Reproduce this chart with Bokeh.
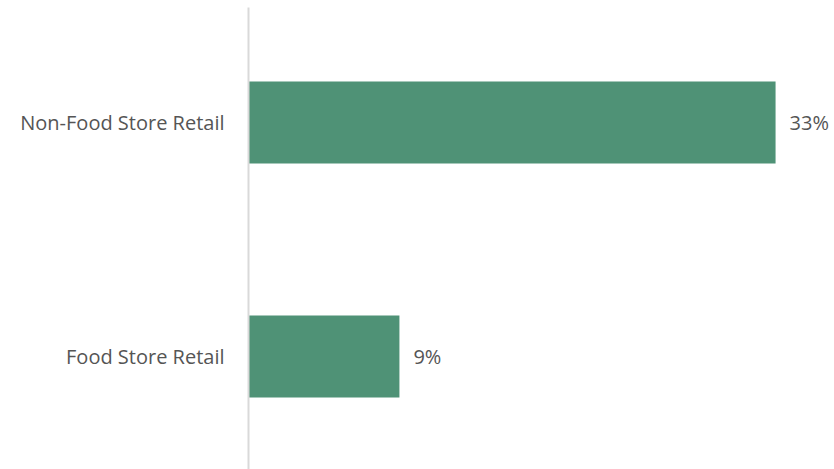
from bokeh.plotting import figure
from bokeh.models import ColumnDataSource, Range1d, FixedTicker
from bokeh.core.properties import value
from bokeh.embed import file_html
from bokeh.resources import INLINE

categories = ["Food Store Retail", "Non-Food Store Retail"]
shares = [9.45, 33.0]
share_labels = ["9%", "33%"]

positions = list(range(len(categories)))
src = ColumnDataSource(dict(y=positions, v=shares, lab=share_labels))

p = figure(width=834, height=469, output_backend="svg", toolbar_location=None,
           x_range=Range1d(0, 36.69), y_range=Range1d(-0.483, 1.4915),
           min_border_left=248, min_border_right=0, min_border_top=7, min_border_bottom=0)
p.xaxis.visible = False
p.xgrid.visible = False
p.ygrid.visible = False
p.outline_line_color = None
p.background_fill_color = "white"
p.border_fill_color = "white"

p.hbar(y="y", right="v", left=0, height=0.35, source=src, color="#4f9276", line_color=None)
p.text(x="v", y="y", text="lab", source=src, x_offset=14, text_baseline="middle",
       text_align="left", text_font=value("Open Sans"), text_font_size="20px", text_color="#555555")

ax = p.yaxis[0]
ax.ticker = FixedTicker(ticks=positions)
ax.major_label_overrides = {i: c for i, c in enumerate(categories)}
ax.major_tick_line_color = None
ax.minor_tick_line_color = None
ax.axis_line_color = "#d9d9d9"
ax.axis_line_width = 2
ax.major_label_standoff = 18
ax.major_label_text_font = "Open Sans"
ax.major_label_text_font_size = "20px"
ax.major_label_text_color = "#555555"

open("out.html", "w").write(file_html(p, INLINE))
